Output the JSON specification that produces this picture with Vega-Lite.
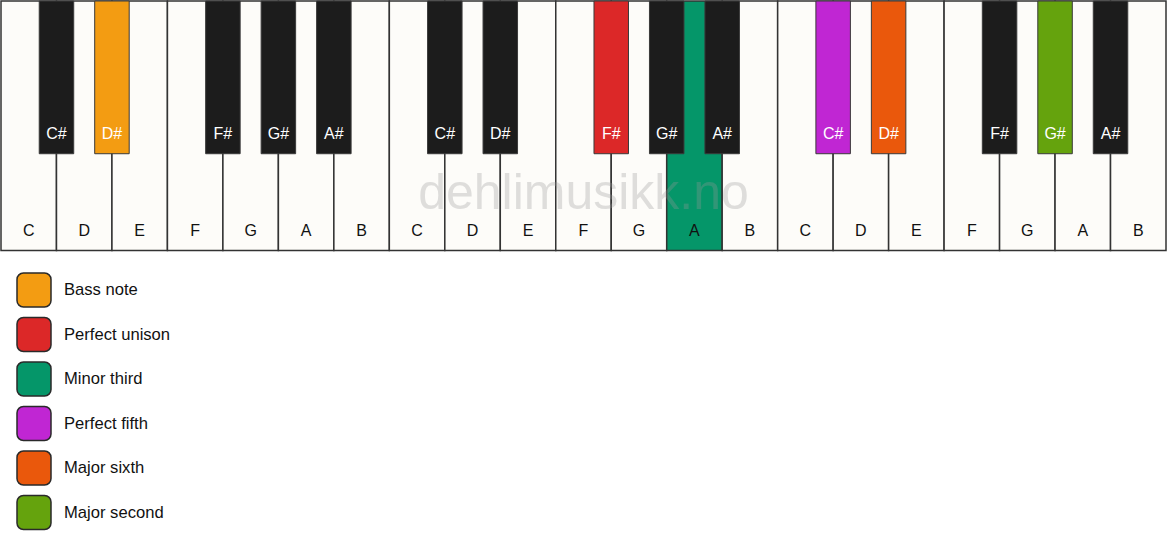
{
  "$schema": "https://vega.github.io/schema/vega-lite/v6.json",
  "width": 1167,
  "height": 550,
  "autosize": {"type": "fit", "contains": "padding"},
  "padding": 0,
  "background": "white",
  "config": {
    "view": {"stroke": null},
    "font": "Liberation Sans",
    "legend": {
      "orient": "none",
      "legendX": 15,
      "legendY": 271,
      "padding": 0,
      "labelFont": "Liberation Sans",
      "labelFontSize": 16.6,
      "labelColor": "#111111",
      "labelOffset": 12,
      "rowPadding": 4.5,
      "symbolSize": 1156,
      "symbolType": "M-0.62,-1H0.62A0.38,0.38,0,0,1,1,-0.62V0.62A0.38,0.38,0,0,1,0.62,1H-0.62A0.38,0.38,0,0,1,-1,0.62V-0.62A0.38,0.38,0,0,1,-0.62,-1Z",
      "symbolStrokeColor": "#2a2a2a",
      "symbolStrokeWidth": 1.5,
      "symbolOpacity": 1
    }
  },
  "data": {
    "values": [
      {"kind": "white", "note": "C", "pos": 0, "role": null},
      {"kind": "white", "note": "D", "pos": 1, "role": null},
      {"kind": "white", "note": "E", "pos": 2, "role": null},
      {"kind": "white", "note": "F", "pos": 3, "role": null},
      {"kind": "white", "note": "G", "pos": 4, "role": null},
      {"kind": "white", "note": "A", "pos": 5, "role": null},
      {"kind": "white", "note": "B", "pos": 6, "role": null},
      {"kind": "white", "note": "C", "pos": 7, "role": null},
      {"kind": "white", "note": "D", "pos": 8, "role": null},
      {"kind": "white", "note": "E", "pos": 9, "role": null},
      {"kind": "white", "note": "F", "pos": 10, "role": null},
      {"kind": "white", "note": "G", "pos": 11, "role": null},
      {"kind": "white", "note": "A", "pos": 12, "role": "Minor third"},
      {"kind": "white", "note": "B", "pos": 13, "role": null},
      {"kind": "white", "note": "C", "pos": 14, "role": null},
      {"kind": "white", "note": "D", "pos": 15, "role": null},
      {"kind": "white", "note": "E", "pos": 16, "role": null},
      {"kind": "white", "note": "F", "pos": 17, "role": null},
      {"kind": "white", "note": "G", "pos": 18, "role": null},
      {"kind": "white", "note": "A", "pos": 19, "role": null},
      {"kind": "white", "note": "B", "pos": 20, "role": null},
      {"kind": "black", "note": "C#", "pos": 1, "role": null},
      {"kind": "black", "note": "D#", "pos": 2, "role": "Bass note"},
      {"kind": "black", "note": "F#", "pos": 4, "role": null},
      {"kind": "black", "note": "G#", "pos": 5, "role": null},
      {"kind": "black", "note": "A#", "pos": 6, "role": null},
      {"kind": "black", "note": "C#", "pos": 8, "role": null},
      {"kind": "black", "note": "D#", "pos": 9, "role": null},
      {"kind": "black", "note": "F#", "pos": 11, "role": "Perfect unison"},
      {"kind": "black", "note": "G#", "pos": 12, "role": null},
      {"kind": "black", "note": "A#", "pos": 13, "role": null},
      {"kind": "black", "note": "C#", "pos": 15, "role": "Perfect fifth"},
      {"kind": "black", "note": "D#", "pos": 16, "role": "Major sixth"},
      {"kind": "black", "note": "F#", "pos": 18, "role": null},
      {"kind": "black", "note": "G#", "pos": 19, "role": "Major second"},
      {"kind": "black", "note": "A#", "pos": 20, "role": null}
    ]
  },
  "resolve": {"scale": {"x": "independent"}, "axis": {"x": "independent"}},
  "layer": [
    {
      "transform": [{"filter": "datum.kind == 'white'"}],
      "mark": {"type": "bar", "stroke": "#333333", "strokeWidth": 1.5},
      "encoding": {
        "x": {"field": "pos", "type": "ordinal", "axis": null,
              "scale": {"paddingInner": 0, "paddingOuter": 0}},
        "y": {"datum": 0, "type": "quantitative", "axis": null,
              "scale": {"domain": [0, 2.2], "reverse": true, "nice": false, "zero": false, "padding": 0}},
        "y2": {"datum": 1},
        "color": {
          "condition": {"test": "!datum.role", "value": "#fdfcf9"},
          "field": "role", "type": "nominal", "title": null,
          "scale": {
            "domain": ["Bass note", "Perfect unison", "Minor third", "Perfect fifth", "Major sixth", "Major second"],
            "range": ["#f39c12", "#dc2828", "#059669", "#c026d3", "#ea580c", "#65a30d"]
          }
        }
      }
    },
    {
      "transform": [{"filter": "datum.kind == 'white'"}],
      "mark": {"type": "text", "fontSize": 16, "color": "#111111", "baseline": "middle"},
      "encoding": {
        "x": {"field": "pos", "type": "ordinal", "axis": null,
              "scale": {"paddingInner": 0, "paddingOuter": 0}},
        "y": {"datum": 0.92, "type": "quantitative"},
        "text": {"field": "note"}
      }
    },
    {
      "transform": [{"filter": "datum.kind == 'black'"}],
      "mark": {"type": "bar", "width": 34.5, "stroke": "#3a3a3a", "strokeWidth": 1, "orient": "vertical"},
      "encoding": {
        "x": {"field": "pos", "type": "quantitative", "axis": null,
              "scale": {"domain": [0, 21], "nice": false, "zero": false, "padding": 0}},
        "y": {"datum": 0, "type": "quantitative"},
        "y2": {"datum": 0.612},
        "color": {
          "condition": {"test": "!datum.role", "value": "#1c1c1c"},
          "field": "role", "type": "nominal", "title": null
        }
      }
    },
    {
      "transform": [{"filter": "datum.kind == 'black'"}],
      "mark": {"type": "text", "fontSize": 16, "color": "#ffffff", "baseline": "middle"},
      "encoding": {
        "x": {"field": "pos", "type": "quantitative", "axis": null,
              "scale": {"domain": [0, 21], "nice": false, "zero": false, "padding": 0}},
        "y": {"datum": 0.532, "type": "quantitative"},
        "text": {"field": "note"}
      }
    },
    {
      "data": {"values": [{"label": "dehlimusikk.no"}]},
      "mark": {"type": "text", "fontSize": 50, "color": "#999999", "opacity": 0.3, "baseline": "alphabetic"},
      "encoding": {
        "x": {"datum": 10.5, "type": "quantitative", "axis": null,
              "scale": {"domain": [0, 21], "nice": false, "zero": false, "padding": 0}},
        "y": {"datum": 0.832, "type": "quantitative"},
        "text": {"field": "label"}
      }
    }
  ]
}
